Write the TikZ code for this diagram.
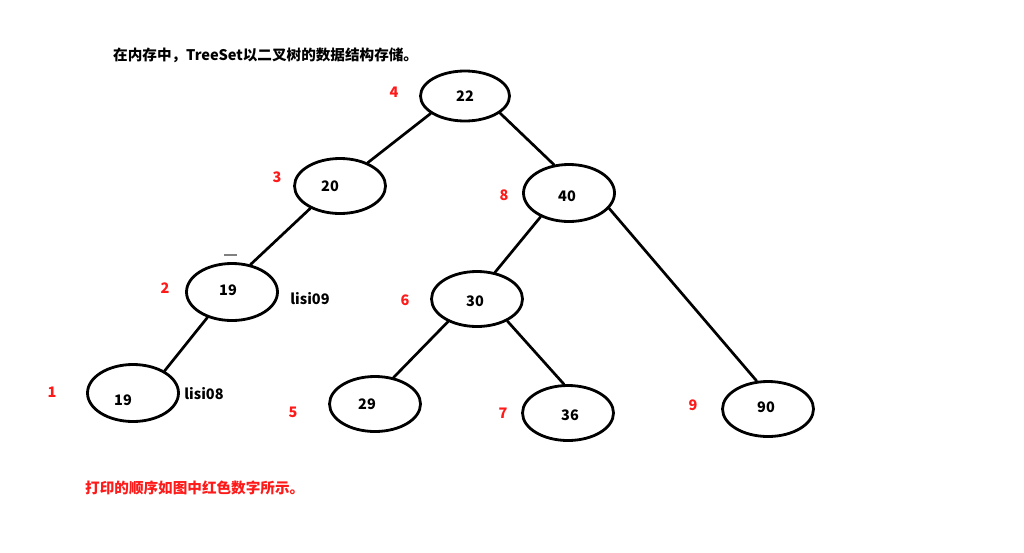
\documentclass[tikz,border=0pt]{standalone}
\usepackage{fontspec}
\setmainfont{Noto Sans CJK SC}
\usetikzlibrary{shapes.geometric}
\definecolor{ordred}{HTML}{FF1A1A}
\tikzset{
  bubble/.style={ellipse, draw, line width=2.8pt, minimum width=91pt,
    minimum height=55pt, inner sep=0pt},
  num/.style={font=\fontsize{14.5}{16}\selectfont\bfseries, inner sep=0pt},
  order/.style={font=\fontsize{14.5}{16}\selectfont\bfseries, text=ordred, inner sep=0pt},
  note/.style={font=\fontsize{14.5}{16}\selectfont\bfseries, inner sep=0pt},
  caption/.style={font=\fontsize{14.6}{17}\selectfont\bfseries, inner sep=0pt},
  edge/.style={line width=2.7pt, line cap=round},
}
\begin{document}
\begin{tikzpicture}[x=1pt, y=-1pt]
\useasboundingbox (0,0) rectangle (1024,552);

% caption lines
\node[caption, anchor=west] (title) at (113,55) {在内存中，TreeSet以二叉树的数据结构存储。};
\node[caption, anchor=west, text=ordred] (foot) at (85,488) {打印的顺序如图中红色数字所示。};

% tree nodes
\node[bubble, minimum height=50pt, minimum width=89pt, label={[num]center:22}] (v22) at (465,96) {};
\node[bubble, label={[num, xshift=-10pt]center:20}] (v20) at (340,186) {};
\node[bubble, minimum height=57pt, label={[num, xshift=-2pt, yshift=-3pt]center:40}] (v40) at (569,193) {};
\node[bubble, minimum height=57pt, label={[num, xshift=-4pt, yshift=2pt]center:19}] (v19a) at (232,292) {};
\node[bubble, label={[num, xshift=-2pt, yshift=-2pt]center:30}] (v30) at (477,299) {};
\node[bubble, minimum height=57pt, label={[num, xshift=-10pt, yshift=-7pt]center:19}] (v19b) at (133,393) {};
\node[bubble, label={[num, xshift=-8pt]center:29}] (v29) at (375,404) {};
\node[bubble, label={[num, xshift=2pt, yshift=-2pt]center:36}] (v36) at (568,413) {};
\node[bubble, label={[num, xshift=-2pt, yshift=2pt]center:90}] (v90) at (768,409) {};

% connectors
\draw[edge] (v22.207) -- (v20.40);
\draw[edge] (v22.334) -- (v40.118);
\draw[edge] (v20.217) -- (v19a.56);
\draw[edge] (v19a.226) -- (v19b.35);
\draw[edge] (v40.220) -- (v30.56);
\draw[edge] (v40.339) -- (v90.112);
\draw[edge] (v30.218) -- (v29.55);
\draw[edge] (v30.324) -- (v36.98);

% small mark above the second node
\node[fill=gray, minimum width=13pt, minimum height=2pt, inner sep=0pt] (mark) at (230,255) {};

% side notes
\node[note] (lisi09) at (310,299) {lisi09};
\node[note] (lisi08) at (204,394) {lisi08};

% visiting order
\node[order] (o1) at (52,392) {1};
\node[order] (o2) at (165,288) {2};
\node[order] (o3) at (277,177) {3};
\node[order] (o4) at (394,92) {4};
\node[order] (o5) at (293,412) {5};
\node[order] (o6) at (405,300) {6};
\node[order] (o7) at (503,413) {7};
\node[order] (o8) at (504,195) {8};
\node[order] (o9) at (693,405) {9};
\end{tikzpicture}
\end{document}
